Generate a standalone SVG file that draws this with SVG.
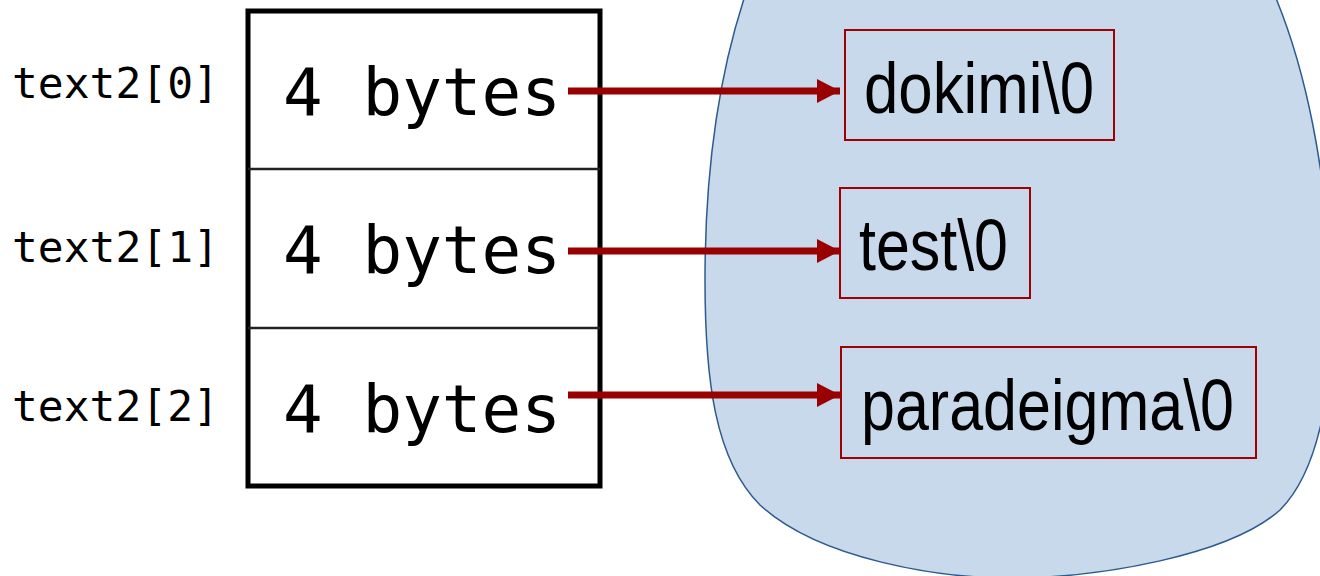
<svg xmlns="http://www.w3.org/2000/svg" width="1320" height="576" viewBox="0 0 1320 576">
<style>
.mono{font-family:"DejaVu Sans Mono","Liberation Mono",monospace;fill:#000}
.lbl{font-size:43px}
.cell{font-size:66px}
.str{font-family:"Liberation Sans Narrow","Liberation Sans",Arial,sans-serif;font-size:72px;fill:#000}
.sbox{fill:none;stroke:#A00000;stroke-width:2}
.conn{stroke:#990000;stroke-width:7;fill:none}
</style>
<defs>
<marker id="ah" markerUnits="userSpaceOnUse" markerWidth="24" markerHeight="24" refX="23" refY="12" orient="auto">
<path d="M0,0 L23,12 L0,24 Z" fill="#990000"/>
</marker>
</defs>
<g id="heap">
<path d="M758,-40 C718,60 705,170 705,280 C705,380 715,460 760,505 C820,560 940,578 1010,578 C1100,578 1230,555 1280,510 C1320,470 1335,380 1330,300 C1330,180 1305,60 1268,-20 Z" fill="#C9D9EC" stroke="#2E5A8E" stroke-width="1.5"/>
</g>
<g id="array">
<rect x="248" y="11" width="352" height="475" fill="#fff" stroke="#000" stroke-width="5"/>
<line x1="248" y1="169" x2="600" y2="169" stroke="#222" stroke-width="2.5"/>
<line x1="248" y1="328" x2="600" y2="328" stroke="#222" stroke-width="2.5"/>
</g>
<g id="label0"><text class="mono lbl" x="12" y="98" textLength="207" lengthAdjust="spacingAndGlyphs">text2[0]</text></g>
<g id="label1"><text class="mono lbl" x="12" y="262" textLength="207" lengthAdjust="spacingAndGlyphs">text2[1]</text></g>
<g id="label2"><text class="mono lbl" x="12" y="421" textLength="207" lengthAdjust="spacingAndGlyphs">text2[2]</text></g>
<g id="cell0"><text class="mono cell" x="283" y="115" textLength="278" lengthAdjust="spacingAndGlyphs">4 bytes</text></g>
<g id="cell1"><text class="mono cell" x="283" y="273" textLength="278" lengthAdjust="spacingAndGlyphs">4 bytes</text></g>
<g id="cell2"><text class="mono cell" x="283" y="432" textLength="278" lengthAdjust="spacingAndGlyphs">4 bytes</text></g>
<g id="str0">
<rect class="sbox" x="845" y="30" width="269" height="110"/>
<text class="str" x="864" y="113" textLength="230" lengthAdjust="spacingAndGlyphs">dokimi\0</text>
</g>
<g id="str1">
<rect class="sbox" x="840" y="188" width="190" height="110"/>
<text class="str" x="859" y="270" textLength="149" lengthAdjust="spacingAndGlyphs">test\0</text>
</g>
<g id="str2">
<rect class="sbox" x="841" y="347" width="415" height="111"/>
<text class="str" x="861" y="430" textLength="373" lengthAdjust="spacingAndGlyphs">paradeigma\0</text>
</g>
<g id="connectors">
<line class="conn" x1="568" y1="91" x2="840" y2="91" marker-end="url(#ah)"/>
<line class="conn" x1="568" y1="251" x2="840" y2="251" marker-end="url(#ah)"/>
<line class="conn" x1="568" y1="395" x2="840" y2="395" marker-end="url(#ah)"/>
</g>
</svg>
